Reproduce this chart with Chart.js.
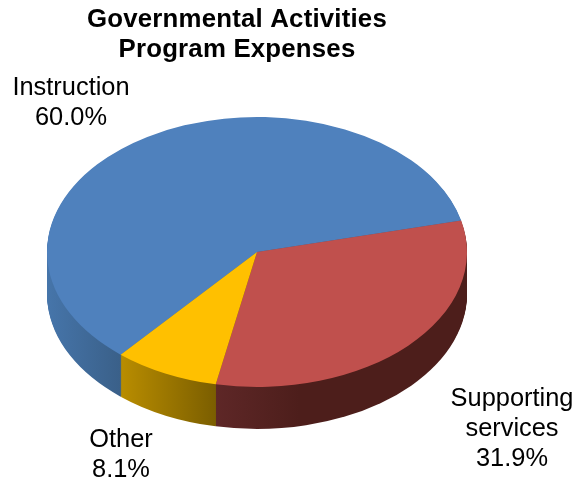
<!DOCTYPE html>
<html>
<head>
<meta charset="utf-8">
<title>Governmental Activities Program Expenses</title>
<script src="https://cdn.jsdelivr.net/npm/chart.js@4"></script>
<style>
    body { margin: 0; background: #fff; }
    canvas { display: block; }
</style>
</head>
<body>
<canvas id="pizza" width="575" height="481"></canvas>
<script>
const titleLines = ["Governmental Activities", "Program Expenses"];
const categories = ["Instruction", "Supporting services", "Other"];
const categoryLines = [["Instruction"], ["Supporting", "services"], ["Other"]];
const values = [60.0, 31.9, 8.1];

const topColors = ["#4f81bd", "#c0504d", "#ffc000"];
// side wall colours, evenly spaced left to right
const wallColors = [
    ["#4675aa", "#3a6089"],
    ["#5e2727", "#4d1e1b", "#4d1e1b", "#4d1e1b"],
    ["#b98d00", "#7b5e00"]
];

const tilt = 135 / 210;
const depth = 42;

const labelSpots = [
    { x: 71, y: 95 },
    { x: 512, y: 406 },
    { x: 121, y: 447 }
];

function frontRange(arc) {
    // horizontal extent of the part of a slice that faces the viewer
    let minX = Infinity;
    let maxX = -Infinity;
    const steps = 200;
    for (let i = 0; i <= steps; i++) {
        const a = arc.startAngle + (arc.endAngle - arc.startAngle) * i / steps;
        if (Math.sin(a) >= 0) {
            const x = arc.x + arc.outerRadius * Math.cos(a);
            minX = Math.min(minX, x);
            maxX = Math.max(maxX, x);
        }
    }
    return [minX, maxX];
}

const pie3d = {
    id: "pie3d",
    beforeDatasetsDraw(chart) {
        const ctx = chart.ctx;
        const arcs = chart.getDatasetMeta(0).data;
        const cy = arcs[0].y;

        arcs.forEach((arc, i) => {
            const range = frontRange(arc);
            if (range[0] === Infinity) return;
            arc.wallFill = ctx.createLinearGradient(range[0], 0, range[1], 0);
            wallColors[i].forEach((color, j) => {
                arc.wallFill.addColorStop(j / (wallColors[i].length - 1), color);
            });
        });

        // stack the slices from the bottom of the disc upwards
        for (let d = depth; d >= 1; d--) {
            arcs.forEach((arc) => {
                if (!arc.wallFill) return;
                ctx.save();
                ctx.translate(0, cy + d);
                ctx.scale(1, tilt);
                ctx.translate(0, -cy);
                ctx.fillStyle = arc.wallFill;
                ctx.beginPath();
                ctx.moveTo(arc.x, arc.y);
                ctx.arc(arc.x, arc.y, arc.outerRadius, arc.startAngle, arc.endAngle);
                ctx.closePath();
                ctx.fill();
                ctx.restore();
            });
        }

        ctx.save();
        ctx.translate(0, cy);
        ctx.scale(1, tilt);
        ctx.translate(0, -cy);
    },
    afterDatasetsDraw(chart) {
        chart.ctx.restore();
    },
    afterDraw(chart) {
        const ctx = chart.ctx;
        ctx.save();
        ctx.fillStyle = "#000";
        ctx.textAlign = "center";
        ctx.textBaseline = "alphabetic";

        ctx.font = "bold 25.8px 'Liberation Sans'";
        ctx.letterSpacing = "0.2px";
        titleLines.forEach((line, i) => ctx.fillText(line, 237, 27 + i * 30));

        ctx.font = "25.4px 'Liberation Sans'";
        ctx.letterSpacing = "0px";
        categoryLines.forEach((lines, i) => {
            const text = lines.concat(values[i].toFixed(1) + "%");
            text.forEach((line, j) => ctx.fillText(line, labelSpots[i].x, labelSpots[i].y + j * 30));
        });
        ctx.restore();
    }
};

new Chart(document.getElementById("pizza"), {
    type: "pie",
    data: {
        labels: categories,
        datasets: [{
            data: values,
            backgroundColor: topColors,
            borderWidth: 0,
            clip: false
        }]
    },
    options: {
        responsive: false,
        animation: false,
        rotation: -139.5,
        layout: {
            padding: { left: 47, right: 108, top: 42, bottom: 19 }
        },
        plugins: {
            legend: { display: false },
            title: { display: false },
            tooltip: { enabled: false }
        }
    },
    plugins: [pie3d]
});
</script>
</body>
</html>
